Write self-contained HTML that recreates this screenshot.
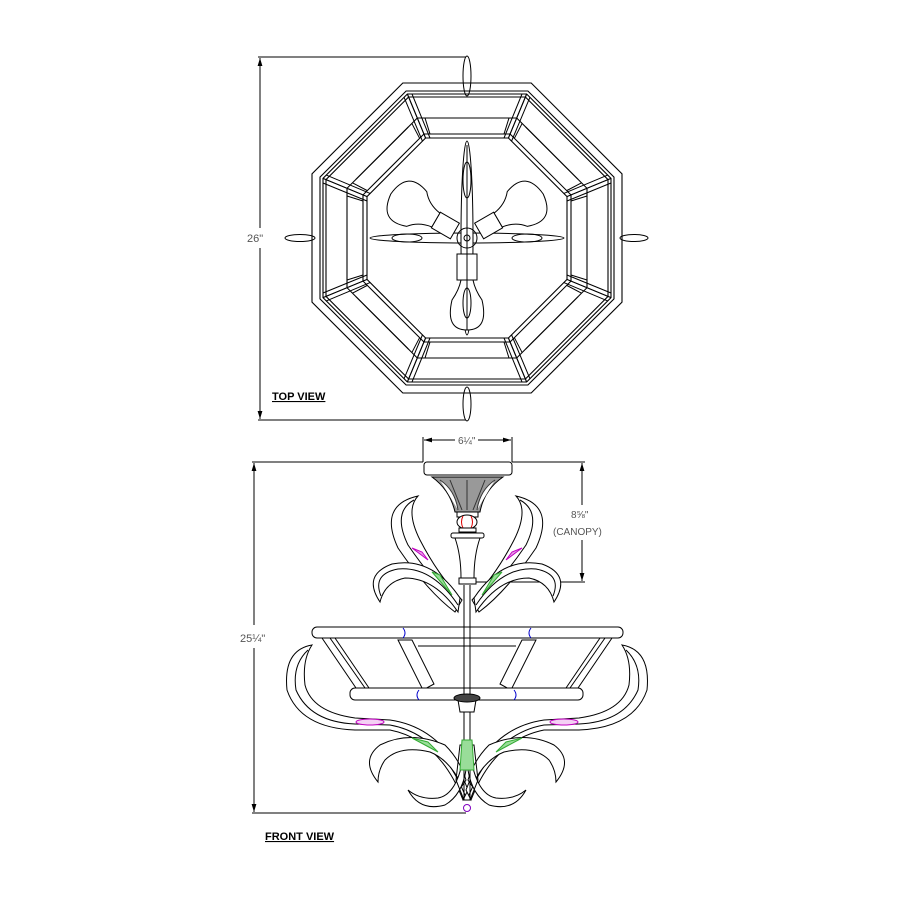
<!DOCTYPE html>
<html><head><meta charset="utf-8"><style>
html,body{margin:0;padding:0;background:#fff;}
svg{display:block;}
text{font-family:"Liberation Sans",sans-serif;}
</style></head><body>
<svg width="900" height="900" viewBox="0 0 900 900" xmlns="http://www.w3.org/2000/svg">
<defs>
<polygon id="oct" points="-0.4142,-1 0.4142,-1 1,-0.4142 1,0.4142 0.4142,1 -0.4142,1 -1,0.4142 -1,-0.4142" fill="none" stroke="#000" stroke-width="1.1" vector-effect="non-scaling-stroke"/>
<marker id="ar" viewBox="0 0 10 10" refX="10" refY="5" markerWidth="8" markerHeight="8" orient="auto-start-reverse"><path d="M0,2 L10,5 L0,8 Z" fill="#000"/></marker>
</defs>
<g fill="none" stroke="#000" stroke-width="1">
<line x1="258" y1="57" x2="466" y2="57"/>
<line x1="258" y1="420" x2="466" y2="420"/>
<line x1="260" y1="58" x2="260" y2="228" marker-start="url(#ar)"/>
<line x1="260" y1="248" x2="260" y2="419" marker-end="url(#ar)"/>
<ellipse cx="467" cy="76" rx="4" ry="20"/>
<ellipse cx="467" cy="404" rx="4" ry="17"/>
<ellipse cx="300" cy="238" rx="15" ry="3.5"/>
<ellipse cx="634" cy="238" rx="14" ry="3.5"/>
<use href="#oct" transform="translate(467,238) scale(155)"/>
<use href="#oct" transform="translate(467,238) scale(147)"/>
<use href="#oct" transform="translate(467,238) scale(144)"/>
<use href="#oct" transform="translate(467,238) scale(141)"/>
<use href="#oct" transform="translate(467,238) scale(120)"/>
<use href="#oct" transform="translate(467,238) scale(104)"/>
<use href="#oct" transform="translate(467,238) scale(100)"/>
</g>
<g stroke="#000" stroke-width="1" fill="none">
<g id="cc">
<line x1="526.6" y1="94" x2="508.4" y2="138"/>
<line x1="522" y1="94" x2="504" y2="138"/>
<line x1="407.4" y1="94" x2="425.6" y2="138"/>
<line x1="412" y1="94" x2="430" y2="138"/>
<line x1="430" y1="118" x2="504" y2="118"/>
<line x1="425" y1="118" x2="430" y2="134"/>
<line x1="509" y1="118" x2="504" y2="134"/>
</g>
<use href="#cc" transform="rotate(90 467 238)"/>
<use href="#cc" transform="rotate(180 467 238)"/>
<use href="#cc" transform="rotate(270 467 238)"/>
<use href="#cc" transform="rotate(45 467 238)"/>
<use href="#cc" transform="rotate(135 467 238)"/>
<use href="#cc" transform="rotate(225 467 238)"/>
<use href="#cc" transform="rotate(315 467 238)"/>
</g>
<g fill="#fff" stroke="#000" stroke-width="1">
<ellipse cx="467" cy="238" rx="97" ry="5"/>
<ellipse cx="467" cy="238" rx="6" ry="97"/>
<ellipse cx="407" cy="238" rx="15" ry="4" fill="none"/>
<ellipse cx="527" cy="238" rx="15" ry="4" fill="none"/>
<ellipse cx="467" cy="180" rx="4" ry="18" fill="none"/>
<ellipse cx="467" cy="300" rx="4" ry="18" fill="none"/>
<circle cx="467" cy="238" r="10" fill="none"/>
<circle cx="467" cy="238" r="3"/>
<g transform="translate(467,238) rotate(-150)">
<rect x="14" y="-9" width="22" height="18"/>
<path d="M36,-8 Q50,-10 58,-20 Q85,-30 88,0 Q85,30 58,20 Q50,10 36,8 Z"/>
</g>
<g transform="translate(467,238) rotate(-30)">
<rect x="14" y="-9" width="22" height="18"/>
<path d="M36,-8 Q50,-10 58,-20 Q85,-30 88,0 Q85,30 58,20 Q50,10 36,8 Z"/>
</g>
<g transform="translate(467,238) rotate(90)">
<rect x="16" y="-10" width="26" height="20"/>
<path d="M42,-6 Q52,-8 62,-15 Q92,-22 92,0 Q92,22 62,15 Q52,8 42,6 Z"/>
<ellipse cx="65" cy="0" rx="15" ry="4" fill="none"/>
</g>
<line x1="467" y1="145" x2="467" y2="330"/>
</g>
<text x="272" y="400" font-size="11" font-weight="bold" text-decoration="underline">TOP VIEW</text>
<text x="247" y="242" font-size="11" fill="#555">26"</text>

<g fill="none" stroke="#000" stroke-width="1">
<line x1="423" y1="437" x2="423" y2="462"/>
<line x1="512" y1="437" x2="512" y2="462"/>
<line x1="424" y1="440" x2="455" y2="440" marker-start="url(#ar)"/>
<line x1="478" y1="440" x2="511" y2="440" marker-end="url(#ar)"/>
<line x1="252" y1="462" x2="423" y2="462"/>
<line x1="252" y1="813" x2="466" y2="813"/>
<line x1="254" y1="463" x2="254" y2="625" marker-start="url(#ar)"/>
<line x1="254" y1="648" x2="254" y2="812" marker-end="url(#ar)"/>
<line x1="512" y1="462" x2="585" y2="462"/>
<line x1="470" y1="582" x2="585" y2="582"/>
<line x1="582" y1="463" x2="582" y2="505" marker-start="url(#ar)"/>
<line x1="582" y1="540" x2="582" y2="581" marker-end="url(#ar)"/>
</g>
<text x="458" y="444" font-size="10" fill="#555">6¼"</text>
<text x="240" y="642" font-size="11" fill="#555">25¼"</text>
<text x="571" y="518" font-size="10" fill="#555">8⅝"</text>
<text x="553" y="535" font-size="10" fill="#555">(CANOPY)</text>
<text x="265" y="840" font-size="11" font-weight="bold" text-decoration="underline">FRONT VIEW</text>

<g fill="#fff" stroke="#000" stroke-width="1">
<g id="ua">
<path d="M418,496 Q378,505 398,548 Q428,592 455,612 L462,600 Q438,575 420,540 Q405,510 418,496 Z"/>
<path d="M414,500 Q392,512 408,545 Q432,580 458,606" fill="none"/>
<path d="M380,602 Q362,575 392,564 Q432,556 460,598 L458,612 Q435,578 405,578 Q385,582 380,602 Z"/>
<path d="M381,596 Q372,574 398,569 Q432,566 458,605" fill="none"/>
<path d="M412,548 L428,560 L422,552 Z" fill="#e8a0e8" stroke="#c000c0"/>
<path d="M432,572 L452,595 L440,575 Z" fill="#9d9" stroke="#3a3"/>
<path d="M312,645 Q283,650 287,690 Q300,728 355,730 L390,730 Q440,740 463,800 L468,790 Q445,728 390,720 L355,718 Q312,712 305,685 Q302,660 312,645 Z"/>
<path d="M308,650 Q292,665 296,690 Q310,722 355,724 L390,725 Q440,734 465,795" fill="none"/>
<path d="M378,782 Q360,760 380,745 Q410,730 445,745 Q460,760 466,780 L462,786 Q450,760 430,752 Q400,745 385,760 Q378,770 378,782 Z"/>
<path d="M408,790 Q420,812 445,805 Q462,795 466,770 L462,764 Q455,795 438,798 Q420,800 408,790 Z"/>
<ellipse cx="370" cy="722" rx="14" ry="3" fill="#f4d0f4" stroke="#c000c0"/>
<path d="M412,738 L438,752 L428,742 Z" fill="#9d9" stroke="#3a3"/>
</g>
<use href="#ua" transform="translate(934,0) scale(-1,1)"/>
<rect x="312" y="627" width="311" height="11" rx="5"/>
<path d="M322,638 L612,638 L578,688 L356,688 Z"/>
<path d="M330,638 L365,688 M335,638 L369,688 M605,638 L570,688 M600,638 L566,688"/>
<path d="M398,640 L412,640 L434,684 L423,690 Z"/>
<path d="M536,640 L522,640 L500,684 L511,690 Z"/>
<line x1="418" y1="646" x2="516" y2="646"/>
<rect x="350" y="688" width="233" height="12" rx="5"/>
<line x1="464" y1="585" x2="464" y2="800"/>
<line x1="470" y1="585" x2="470" y2="800"/>
<path d="M458,700 Q467,690 476,700 L474,712 L460,712 Z"/>
<ellipse cx="467" cy="698" rx="13" ry="4" fill="#444"/>
<path d="M460,745 L474,745 L478,780 L470,800 L464,800 L456,780 Z" fill="none"/>
<path d="M462,740 L472,740 L474,770 L460,770 Z" fill="#9d9" stroke="#3a3"/>
<circle cx="467" cy="808" r="3.5" stroke="#8000c0"/>
<rect x="424" y="462" width="88" height="13" rx="3"/>
<path d="M432,477 L503,477 Q484,490 480,512 L455,512 Q450,490 432,477 Z" fill="#999"/>
<path d="M440,480 Q455,490 458,510 M495,480 Q480,490 477,510 M450,480 L462,510 M485,480 L473,510 M467,480 L467,510" stroke="#333"/>
<rect x="457" y="512" width="21" height="5"/>
<ellipse cx="467" cy="522" rx="10" ry="7"/>
<path d="M463,516 Q460,522 463,528 M471,516 Q474,522 471,528" stroke="#d00"/>
<rect x="459" y="528" width="17" height="4"/>
<rect x="451" y="533" width="33" height="5" rx="2"/>
<path d="M455,538 L480,538 Q474,555 474,578 L461,578 Q461,555 455,538 Z"/>
<rect x="459" y="578" width="17" height="6"/>
<path d="M403,628 Q407,633 403,638 M531,628 Q527,633 531,638 M419,690 Q415,695 419,700 M514,690 Q518,695 514,700" stroke="#00c" fill="none"/>
</g>
</svg>
</body></html>
